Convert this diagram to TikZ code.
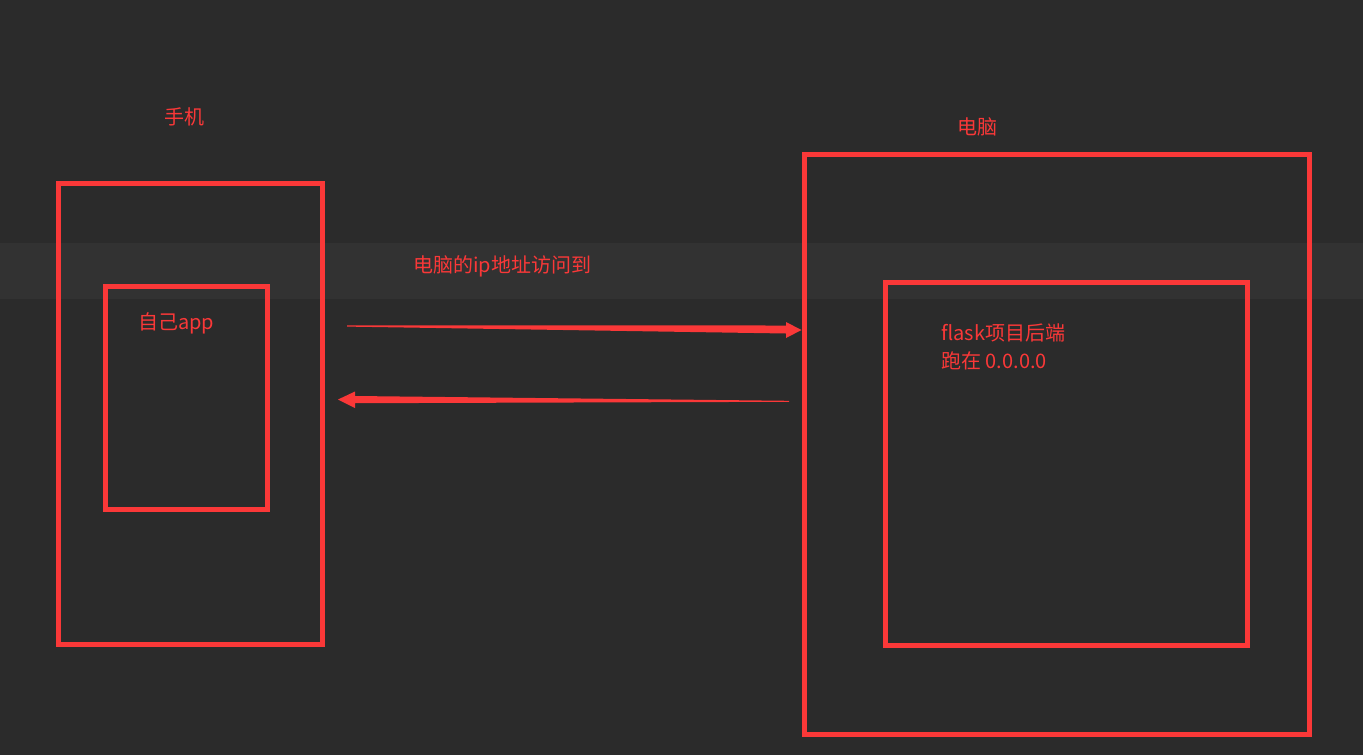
\documentclass[tikz,border=0pt]{standalone}
\usepackage{fontspec}
\setmainfont{Noto Sans CJK SC}
\begin{document}
\begin{tikzpicture}[x=1pt,y=-1pt,
  box/.style={draw=redc,line width=5pt,inner sep=0pt},
  lbl/.style={text=redc,font=\fontsize{20}{24}\selectfont,inner sep=0pt,anchor=west},
  arr/.style={fill=redc,draw=none}]
\definecolor{redc}{HTML}{FA3838}
\definecolor{bg}{HTML}{2B2B2B}
\definecolor{band}{HTML}{323232}
\fill[bg] (0,0) rectangle (1363,755);
\useasboundingbox (0,0) rectangle (1363,755);
\fill[band] (0,243) rectangle (1363,299);
% boxes
\node[box,minimum width=264pt,minimum height=461pt] (phone) at (190,413.5) {};
\node[box,minimum width=162pt,minimum height=223pt] (app) at (186,397.5) {};
\node[box,minimum width=505pt,minimum height=580pt] (pc) at (1056.5,444) {};
\node[box,minimum width=362pt,minimum height=363pt] (flask) at (1066,463.5) {};
% labels
\node[lbl] (tphone) at (164,117) {手机};
\node[lbl] (tpc) at (957,127) {电脑};
\node[lbl] (tip) at (413,266) {电脑的ip地址访问到};
\node[lbl] (tapp) at (138,323) {自己app};
\node[lbl,align=left,anchor=west,font=\fontsize{20}{28}\selectfont] (tflask) at (941,347) {flask项目后端\\跑在 0.0.0.0};
% arrows (tapered)
\coordinate (a1s) at (347,326);
\coordinate (a1t) at (pc.west |- 0,330);
\fill[arr] (a1s) -- (347,325.4) -- (786,325.5) -- (786,322) -- (a1t) -- (786,338) -- (786,333.5) -- (347,326.6) -- cycle;
\coordinate (a2s) at (789,401.3);
\coordinate (a2t) at (338,399.5);
\fill[arr] (a2s) -- (789,400.8) -- (355,396) -- (355,391.5) -- (a2t) -- (355,408) -- (355,403.2) -- (789,401.8) -- cycle;
\end{tikzpicture}
\end{document}
